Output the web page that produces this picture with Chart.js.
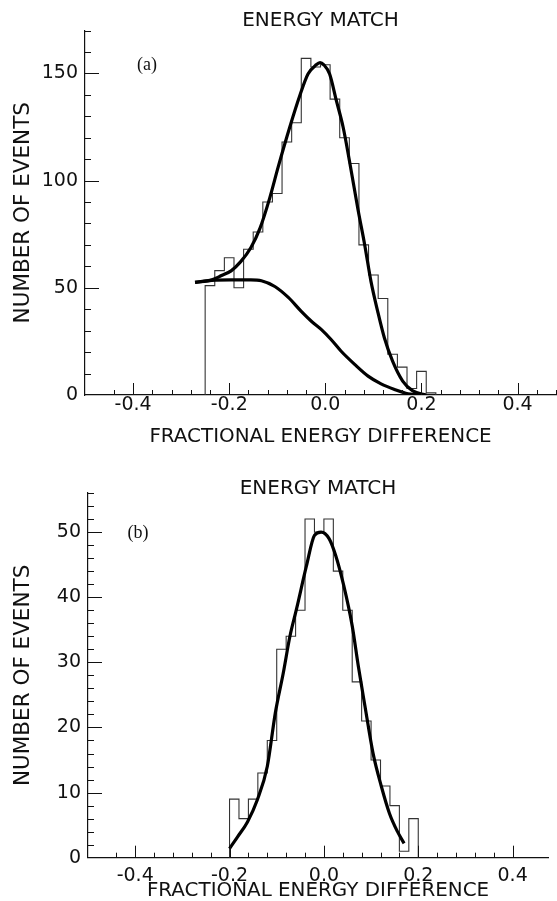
<!DOCTYPE html>
<html>
<head>
<meta charset="utf-8">
<script src="https://cdn.jsdelivr.net/npm/chart.js@4.4.1/dist/chart.umd.min.js"></script>
<style>
  html, body { margin: 0; padding: 0; background: #fff; }
  .panel { position: absolute; left: 0; width: 557px; }
  #panelA { top: 0; height: 450px; }
  #panelB { top: 450px; height: 451px; }
</style>
</head>
<body>
<div class="panel" id="panelA"><canvas id="chartA" width="557" height="450"></canvas></div>
<div class="panel" id="panelB"><canvas id="chartB" width="557" height="451"></canvas></div>
<script>
  const binWidth = 0.02;

  // (a) histogramme: centres des bins e contagens
  const binsA = [-0.24, -0.22, -0.20, -0.18, -0.16, -0.14, -0.12, -0.10, -0.08, -0.06, -0.04, -0.02,
                 0.00, 0.02, 0.04, 0.06, 0.08, 0.10, 0.12, 0.14, 0.16, 0.18, 0.20, 0.22];
  const countsA = [51, 58, 64, 50, 68, 76, 90, 94, 118, 127, 157, 153,
                   154, 138, 120, 108, 70, 56, 45, 19, 13, 3, 11, 1];

  // (a) ajuste total
  const fitAx = [-0.271, -0.236, -0.216, -0.196, -0.176, -0.155, -0.136, -0.116, -0.098, -0.074, -0.053, -0.036,
                 -0.019, -0.011, -0.003, 0.009, 0.023, 0.037, 0.050, 0.068, 0.082, 0.095, 0.109, 0.123,
                 0.140, 0.161, 0.182, 0.210];
  const fitAy = [52.5, 53.7, 55.7, 57.9, 62.2, 68.7, 77.7, 91.6, 106.4, 124.9, 139.7, 149.7,
                 154, 155, 154, 149.7, 137.3, 125, 109.5, 86.5, 70, 53, 39, 26.6,
                 15.8, 6.5, 1.9, 0];

  // (a) fundo
  const bgAx = [-0.271, -0.236, -0.196, -0.155, -0.133, -0.105, -0.077, -0.050, -0.029, -0.008,
                0.012, 0.033, 0.061, 0.089, 0.116, 0.144, 0.172, 0.205];
  const bgAy = [52.5, 53.5, 53.7, 53.7, 53.3, 50.6, 45.5, 39, 34.4, 30.5,
                25.9, 20.4, 14.3, 8.8, 5.2, 2.6, 0.6, 0];

  // (b) histogramme
  const binsB = [-0.19, -0.17, -0.15, -0.13, -0.11, -0.09, -0.07, -0.05, -0.03, -0.01,
                 0.01, 0.03, 0.05, 0.07, 0.09, 0.11, 0.13, 0.15, 0.17, 0.19];
  const countsB = [9, 6, 9, 13, 18, 32, 34, 38, 52, 50,
                   52, 44, 38, 27, 21, 15, 11, 8, 1, 6];

  // (b) ajuste
  const fitBx = [-0.200, -0.183, -0.162, -0.141, -0.120, -0.103, -0.086, -0.072, -0.058, -0.037, -0.020,
                 -0.006, 0.011, 0.025, 0.042, 0.060, 0.073, 0.087, 0.104, 0.122, 0.139, 0.156, 0.170];
  const fitBy = [1.4, 3.2, 5.5, 8.9, 14, 22.2, 28.4, 34, 38.2, 44.8, 49.5,
                 50, 49, 46.4, 41.8, 35.6, 29.4, 23.3, 16.1, 10.9, 6.8, 4, 2.2];

  const titleText = "ENERGY MATCH";
  const xTitle = "FRACTIONAL ENERGY DIFFERENCE";
  const yTitle = "NUMBER OF EVENTS";

  const sans = "'DejaVu Sans', sans-serif";
  const ink = "#111";

  function onStep(v, step) {
    const r = v / step;
    return Math.abs(r - Math.round(r)) < 1e-6;
  }

  function stepPoints(centres, counts) {
    const pts = [{ x: centres[0] - binWidth / 2, y: 0 }];
    centres.forEach((c, i) => pts.push({ x: c - binWidth / 2, y: counts[i] }));
    pts.push({ x: centres[centres.length - 1] + binWidth / 2, y: counts[counts.length - 1] });
    pts.push({ x: centres[centres.length - 1] + binWidth / 2, y: 0 });
    return pts;
  }

  function curve(xs, ys) {
    return xs.map((x, i) => ({ x: x, y: ys[i] }));
  }

  // marcas dos eixos para dentro, como no original
  const innerTicks = {
    id: 'innerTicks',
    afterDatasetsDraw(chart, args, opts) {
      const { ctx, chartArea } = chart;
      const xs = chart.scales.x, ys = chart.scales.y;
      ctx.save();
      ctx.strokeStyle = ink;
      ctx.lineWidth = 1;
      ctx.beginPath();
      xs.ticks.forEach(t => {
        if (!onStep(t.value, 0.04) || t.value === xs.min) return;
        const px = Math.round(xs.getPixelForValue(t.value)) + 0.5;
        const len = onStep(t.value, 0.2) ? 12 : 5;
        ctx.moveTo(px, chartArea.bottom);
        ctx.lineTo(px, chartArea.bottom - len);
      });
      ys.ticks.forEach(t => {
        if (t.value === 0) return;
        const py = Math.round(ys.getPixelForValue(t.value)) + 0.5;
        const len = onStep(t.value, opts.yMajor) ? 14 : 6;
        ctx.moveTo(chartArea.left, py);
        ctx.lineTo(chartArea.left + len, py);
      });
      ctx.stroke();
      // letra do painel
      ctx.fillStyle = ink;
      ctx.font = "18px 'Liberation Serif', serif";
      ctx.textAlign = 'center';
      ctx.textBaseline = 'middle';
      ctx.fillText(opts.tag, opts.tagX, opts.tagY);
      ctx.restore();
    }
  };

  function makeChart(id, p) {
    return new Chart(document.getElementById(id), {
      type: 'line',
      data: {
        datasets: [
          ...p.curves.map(c => ({
            data: c,
            borderColor: '#000',
            borderWidth: 3.2,
            pointRadius: 0,
            cubicInterpolationMode: 'monotone',
            fill: false
          })),
          {
            data: p.hist,
            borderColor: '#333',
            borderWidth: 1.1,
            pointRadius: 0,
            stepped: 'before',
            fill: false
          }
        ]
      },
      options: {
        responsive: false,
        animation: false,
        layout: { padding: { top: 0, left: 0, right: 0, bottom: 0 } },
        plugins: {
          legend: { display: false },
          tooltip: { enabled: false },
          title: {
            display: true,
            fullSize: false,
            text: titleText,
            color: ink,
            font: { family: sans, size: 20, weight: 'normal', lineHeight: 1 },
            padding: p.titlePad
          },
          innerTicks: { yMajor: p.yMajor, tag: p.tag, tagX: p.tagX, tagY: p.tagY }
        },
        scales: {
          x: {
            type: 'linear',
            min: -0.5,
            max: p.xMax,
            afterFit: s => { s.height = p.xHeight; },
            grid: { display: false, drawTicks: false },
            border: { display: true, color: ink, width: 1.2 },
            ticks: {
              stepSize: 0.04,
              autoSkip: false,
              maxRotation: 0,
              minRotation: 0,
              padding: p.xTickPad,
              color: ink,
              font: { family: sans, size: 19, lineHeight: 1 },
              callback: v => onStep(v, 0.2) ? (Math.abs(v) < 1e-9 ? '0.0' : v.toFixed(1)) : ''
            },
            title: {
              display: true,
              text: xTitle,
              color: ink,
              font: { family: sans, size: 19.9, lineHeight: 1 },
              padding: { top: 0, bottom: p.xTitlePad }
            }
          },
          y: {
            min: 0,
            max: p.yMax,
            afterFit: s => { s.width = p.yWidth; },
            grid: { display: false, drawTicks: false },
            border: { display: true, color: ink, width: 1.2 },
            ticks: {
              stepSize: p.yStep,
              autoSkip: false,
              padding: 7,
              color: ink,
              font: { family: sans, size: 19, lineHeight: 1 },
              callback: v => onStep(v, p.yMajor) ? String(v) : ''
            },
            title: {
              display: true,
              text: yTitle,
              color: ink,
              font: { family: sans, size: 21.5, lineHeight: 1 },
              padding: { top: p.yTitlePad, bottom: 0 }
            }
          }
        }
      },
      plugins: [innerTicks]
    });
  }

  makeChart('chartA', {
    curves: [curve(fitAx, fitAy), curve(bgAx, bgAy)],
    hist: stepPoints(binsA, countsA),
    titlePad: { top: 10.5, bottom: 0 },
    xMax: 0.48,
    xHeight: 55,
    xTickPad: 1,
    xTitlePad: 3.5,
    yMax: 170,
    yStep: 10,
    yMajor: 50,
    yWidth: 85,
    yTitlePad: 13,
    tag: '(a)', tagX: 147, tagY: 65
  });

  makeChart('chartB', {
    curves: [curve(fitBx, fitBy)],
    hist: stepPoints(binsB, countsB),
    titlePad: { top: 29, bottom: -6 },
    xMax: 0.475,
    xHeight: 43.3,
    xTickPad: 9,
    xTitlePad: 0.5,
    yMax: 56,
    yStep: 2,
    yMajor: 10,
    yWidth: 88,
    yTitlePad: 13,
    tag: '(b)', tagX: 138, tagY: 83
  });
</script>
</body>
</html>
